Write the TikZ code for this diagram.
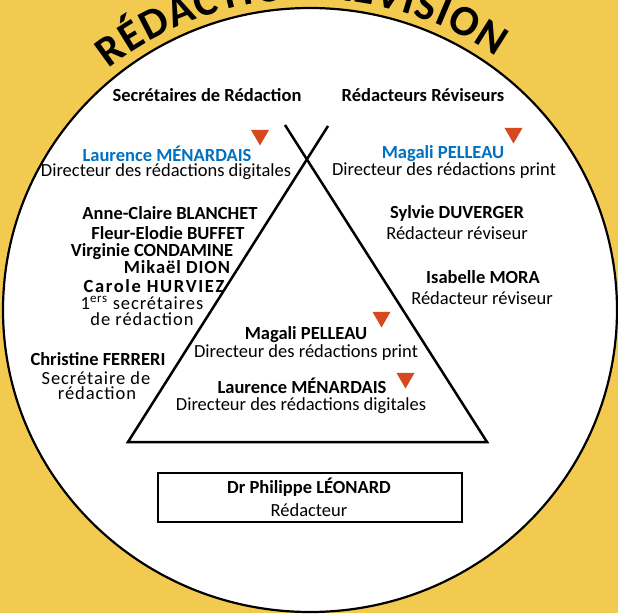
\documentclass[tikz,border=0pt]{standalone}
\usepackage{fontspec}
\setmainfont{Carlito}
\newfontfamily\spacedfont{Carlito}[LetterSpace=5]
\newfontfamily\widefont{Carlito}[LetterSpace=9]
\usetikzlibrary{shapes.geometric,decorations.text}

\definecolor{bgyellow}{RGB}{243,202,80}
\definecolor{leadblue}{RGB}{0,112,192}
\definecolor{flagred}{RGB}{214,72,30}
\newcommand\titlefont{\bfseries\fontsize{43}{43}\selectfont}

\begin{document}
\begin{tikzpicture}[x=1pt, y=-1pt,
    person/.style = {font=\bfseries\fontsize{18.5}{20}\selectfont, anchor=base, inner sep=0},
    duty/.style = {font=\fontsize{18.5}{20}\selectfont, anchor=base, inner sep=0},
    sperson/.style = {font=\spacedfont\bfseries\fontsize{18.5}{20}\selectfont, anchor=base, inner sep=0},
    sduty/.style = {font=\spacedfont\fontsize{18.5}{20}\selectfont, anchor=base, inner sep=0},
    lead/.style = {person, text=leadblue},
    flag/.style = {fill=flagred, regular polygon, regular polygon sides=3, shape border rotate=180, minimum size=21pt, inner sep=0},
    tri/.style = {line width=2.5pt, line join=miter},
    box/.style = {draw, line width=1.2pt, fill=white, minimum width=304pt, minimum height=49pt, inner sep=0}]

    \clip (0,0) rectangle (618,613);
    \fill[bgyellow] (0,0) rectangle (618,613);

    % title on the arc
    \path[decorate, decoration={text along path, text={|\titlefont|RÉDACTION RÉVISION}, text align={fit to path}}]
        ([shift={(310,310)}]129:320pt and 311pt) arc[start angle=129, end angle=54.5, x radius=320pt, y radius=311pt];

    \draw[fill=white, line width=2.2pt] (310,310) ellipse [x radius=307, y radius=302];

    % the cross and the triangle
    \coordinate (bl) at (128,442);
    \coordinate (br) at (487,442);
    \coordinate (lt) at (285,125);
    \coordinate (rt) at (328,126);
    \draw[tri] (rt) -- (bl) -- (br) -- (lt);

    \node[person] (secr) at (207,101) {Secrétaires de Rédaction};
    \node[person] (revs) at (423,101) {Rédacteurs Réviseurs};

    \node[lead] (lmA) at (167,161) {Laurence MÉNARDAIS};
    \node[duty] (lmB) at (166,176) {Directeur des rédactions digitales};
    \node[lead] (mpA) at (443,158) {Magali PELLEAU};
    \node[duty] (mpB) at (444,175) {Directeur des rédactions print};

    \node[person] (acb) at (170,219) {Anne-Claire BLANCHET};
    \node[person] (feb) at (168,239) {Fleur-Elodie BUFFET};
    \node[person] (vic) at (152,256) {Virginie CONDAMINE};
    \node[sperson] (mid) at (177,273) {Mikaël DION};
    \node[sperson, font=\widefont\bfseries\fontsize{18.5}{20}\selectfont] (cah) at (154,292) {Carole HURVIEZ};
    \node[sduty] (fsA) at (142,309) {1\textsuperscript{ers} secrétaires};
    \node[sduty] (fsB) at (142,325) {de rédaction};

    \node[person] (chf) at (98,365) {Christine FERRERI};
    \node[sduty] (scA) at (96,384) {Secrétaire de};
    \node[sduty] (scB) at (97,399) {rédaction};

    \node[person] (syd) at (457,218) {Sylvie DUVERGER};
    \node[duty] (sydB) at (457,239) {Rédacteur réviseur};
    \node[person] (ism) at (483,283) {Isabelle MORA};
    \node[duty] (ismB) at (482,304) {Rédacteur réviseur};

    \node[person] (tmpA) at (306,339) {Magali PELLEAU};
    \node[duty] (tmpB) at (306,357) {Directeur des rédactions print};
    \node[person] (tlmA) at (302,393) {Laurence MÉNARDAIS};
    \node[duty] (tlmB) at (301,410) {Directeur des rédactions digitales};

    \node[flag] (f1) at (260,135) {};
    \node[flag] (f2) at (513.5,133) {};
    \node[flag] (f3) at (381.5,317) {};
    \node[flag] (f4) at (405.5,378) {};

    \node[box] (ed) at (310,497.5) {};
    \node[person] (edA) at (309,493) {Dr Philippe LÉONARD};
    \node[duty] (edB) at (309,516) {Rédacteur};
\end{tikzpicture}
\end{document}
